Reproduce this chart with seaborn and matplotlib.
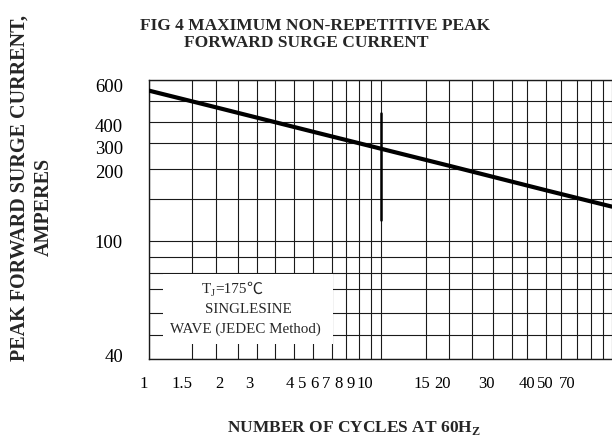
import numpy as np
import pandas as pd
import matplotlib
matplotlib.use("Agg")
import matplotlib.pyplot as plt
import seaborn as sns
from matplotlib.ticker import FixedLocator, FixedFormatter, NullFormatter
from matplotlib.patches import Rectangle
from matplotlib.transforms import ScaledTranslation

# ---------------- data ----------------
cycles = [1, 2, 5, 10, 20, 50, 100]
surge_current = [546, 466, 349, 274, 211, 163, 139]

x_tick_labels = ["1", "1.5", "2", "3", "4", "5", "6", "7", "8", "9", "10",
                 "15", "20", "30", "40", "50", "70"]
y_tick_labels = ["40", "100", "200", "300", "400", "600"]

# grid-paper lines of the original (hand-drawn, not perfectly logarithmic)
x_grid_values = [1, 1.5, 2, 2.5, 3, 3.5, 4, 5, 6, 7, 8, 9, 10,
                 15, 20, 25, 30, 35, 40, 50, 60, 70, 80, 90, 100]
y_grid_values = [40, 50, 60, 70, 80, 90, 100, 150, 200, 300, 400, 500, 600]

# calibration of the grid paper (relative scale units)
x_grid_scale = [149.3, 192.3, 216, 237.7, 257.3, 275.3, 293.7, 312.7, 331.7,
                345.7, 359, 371.3, 380.7, 426, 449.3, 471.7, 492.7, 511.7,
                527.3, 545.7, 560.7, 576.7, 590.7, 603.3, 612]
y_grid_scale = [359.3, 335, 313.3, 289.3, 273.3, 256.7, 241, 198.7, 169.3,
                142.7, 121.7, 100.7, 80]

# style: how the original's typed tick labels sit relative to their lines (px)
x_label_nudge = [-6, -10, 3.7, -8, -4, -11, -17.5, -19.4, -20.5, -20.5, -15.7,
                 -4.3, -7, -6, -0.6, -0.7, -10]
y_label_nudge = [4.3, -0.7, -1.7, -4.6, -3.5, -5.5]


def piecewise(xp, fp):
    xp = np.asarray(xp, float)
    fp = np.asarray(fp, float)
    s0 = (fp[1] - fp[0]) / (xp[1] - xp[0])
    s1 = (fp[-1] - fp[-2]) / (xp[-1] - xp[-2])

    def f(v):
        v = np.asarray(v, float)
        out = np.interp(v, xp, fp)
        out = np.where(v < xp[0], fp[0] + (v - xp[0]) * s0, out)
        out = np.where(v > xp[-1], fp[-1] + (v - xp[-1]) * s1, out)
        return out
    return f


def safelog(v):
    v = np.asarray(v, float)
    return np.log10(np.clip(v, 1e-9, None))


xl = np.log10(x_grid_values)
xs = np.asarray(x_grid_scale)
x_fwd_i = piecewise(xl, xs)
x_inv_i = piecewise(xs, xl)
x_fwd = lambda v: x_fwd_i(safelog(v))
x_inv = lambda p: 10 ** x_inv_i(p)

yl = np.log10(y_grid_values)
ys = -np.asarray(y_grid_scale)
y_fwd_i = piecewise(yl, ys)
y_inv_i = piecewise(ys, yl)
y_fwd = lambda v: y_fwd_i(safelog(v))
y_inv = lambda p: 10 ** y_inv_i(p)

# ---------------- figure ----------------
sns.set_style("white")
plt.rcParams["font.family"] = ["Liberation Serif", "DejaVu Serif"]
plt.rcParams["mathtext.fontset"] = "custom"
plt.rcParams["mathtext.rm"] = "Liberation Serif"
plt.rcParams["mathtext.bf"] = "Liberation Serif:bold"

W, H = 612, 437
fig = plt.figure(figsize=(W / 100, H / 100), dpi=100)
ax = fig.add_axes([149.3 / W, 1 - 359.3 / H, (612 - 149.3) / W, 279.3 / H])

df = pd.DataFrame({"cycles": cycles, "current": surge_current})
sns.lineplot(data=df, x="cycles", y="current", ax=ax, color="black",
             linewidth=3, zorder=4, legend=False)

ax.set_xscale("function", functions=(x_fwd, x_inv))
ax.set_yscale("function", functions=(y_fwd, y_inv))
ax.set_xlim(1, 100)
ax.set_ylim(40, 600)

x_ticks = [float(s) for s in x_tick_labels]
y_ticks = [float(s) for s in y_tick_labels]
ax.xaxis.set_major_locator(FixedLocator(x_ticks))
ax.xaxis.set_major_formatter(FixedFormatter(x_tick_labels))
ax.yaxis.set_major_locator(FixedLocator(y_ticks))
ax.yaxis.set_major_formatter(FixedFormatter(y_tick_labels))
ax.xaxis.set_minor_locator(FixedLocator(x_grid_values))
ax.yaxis.set_minor_locator(FixedLocator(y_grid_values))
ax.xaxis.set_minor_formatter(NullFormatter())
ax.yaxis.set_minor_formatter(NullFormatter())
ax.xaxis.remove_overlapping_locs = False
ax.yaxis.remove_overlapping_locs = False

ax.grid(False)
ax.grid(True, which="minor", color="#1a1a1a", linewidth=0.8)
ax.set_axisbelow(True)

ax.tick_params(axis="both", which="both", length=0, labelcolor="black")
ax.tick_params(axis="x", which="major", pad=12, labelsize=12)
ax.tick_params(axis="y", which="major", pad=19, labelsize=13.5)
ax.set_xlabel("")
ax.set_ylabel("")

for side in ["left", "bottom", "top"]:
    ax.spines[side].set_visible(True)
    ax.spines[side].set_color("#1a1a1a")
    ax.spines[side].set_linewidth(1.0)
ax.spines["right"].set_visible(False)

# heavy mark on the 10-cycle line
ax.axvline(10, ymin=0.499, ymax=0.883, color="black", linewidth=1.8, zorder=3)

# white label box (covers grid)
box = Rectangle((0.029, 0.0548), 0.3674, 0.2510, transform=ax.transAxes,
                facecolor="white", edgecolor="none", zorder=2.5)
ax.add_patch(box)


def fx(px):
    return px / W


def fy(py):
    return 1 - py / H


t1 = fig.text(fx(201.7), fy(293.3), "T", fontsize=10.8, va="baseline",
              ha="left", zorder=6)
t2 = ax.annotate("J", xy=(1, fy(296.3)), xycoords=(t1, fig.transFigure),
                 fontsize=7.5, va="baseline", ha="left", zorder=6)
t3 = ax.annotate("=175", xy=(1, fy(293.3)), xycoords=(t2, fig.transFigure),
                 fontsize=11, va="baseline", ha="left", zorder=6)
t4 = ax.annotate("℃", xy=(1, fy(293.3)), xycoords=(t3, fig.transFigure),
                 fontsize=11.5, va="baseline", ha="left", zorder=6,
                 family=["Noto Sans CJK SC", "DejaVu Sans"])
fig.text(fx(248.3), fy(313.3), "SINGLESINE", fontsize=10.8, va="baseline",
         ha="center", zorder=6)
fig.text(fx(245.3), fy(333.3), "WAVE (JEDEC Method)", fontsize=10.8,
         va="baseline", ha="center", zorder=6)

# titles and axis labels
fig.text(fx(315), fy(30), "FIG 4 MAXIMUM NON-REPETITIVE PEAK",
         fontsize=12.5, fontweight="bold", ha="center", va="baseline")
fig.text(fx(305.8), fy(47.3), "FORWARD SURGE CURRENT",
         fontsize=12.5, fontweight="bold", ha="center", va="baseline")
fig.text(fx(20), fy(188), "PEAK FORWARD SURGE CURRENT,", fontsize=14.5,
         fontweight="bold", rotation=90, ha="center", va="center")
fig.text(fx(44.2), fy(207), "AMPERES", fontsize=14.5, fontweight="bold",
         rotation=90, ha="center", va="center")
fig.text(fx(354), fy(431.7), r"NUMBER OF CYCLES AT 60H$_\mathbf{Z}$",
         fontsize=12.5, fontweight="bold", ha="center", va="baseline")

# place the typed tick labels as in the original sheet
fig.canvas.draw()
for tick, dx in zip(ax.xaxis.get_major_ticks(), x_label_nudge):
    lab = tick.label1
    lab.set_transform(lab.get_transform()
                      + ScaledTranslation(dx / 100, 0, fig.dpi_scale_trans))
for tick, dy in zip(ax.yaxis.get_major_ticks(), y_label_nudge):
    lab = tick.label1
    lab.set_transform(lab.get_transform()
                      + ScaledTranslation(0, dy / 100, fig.dpi_scale_trans))

fig.savefig("out.png", dpi=100, facecolor="white")
